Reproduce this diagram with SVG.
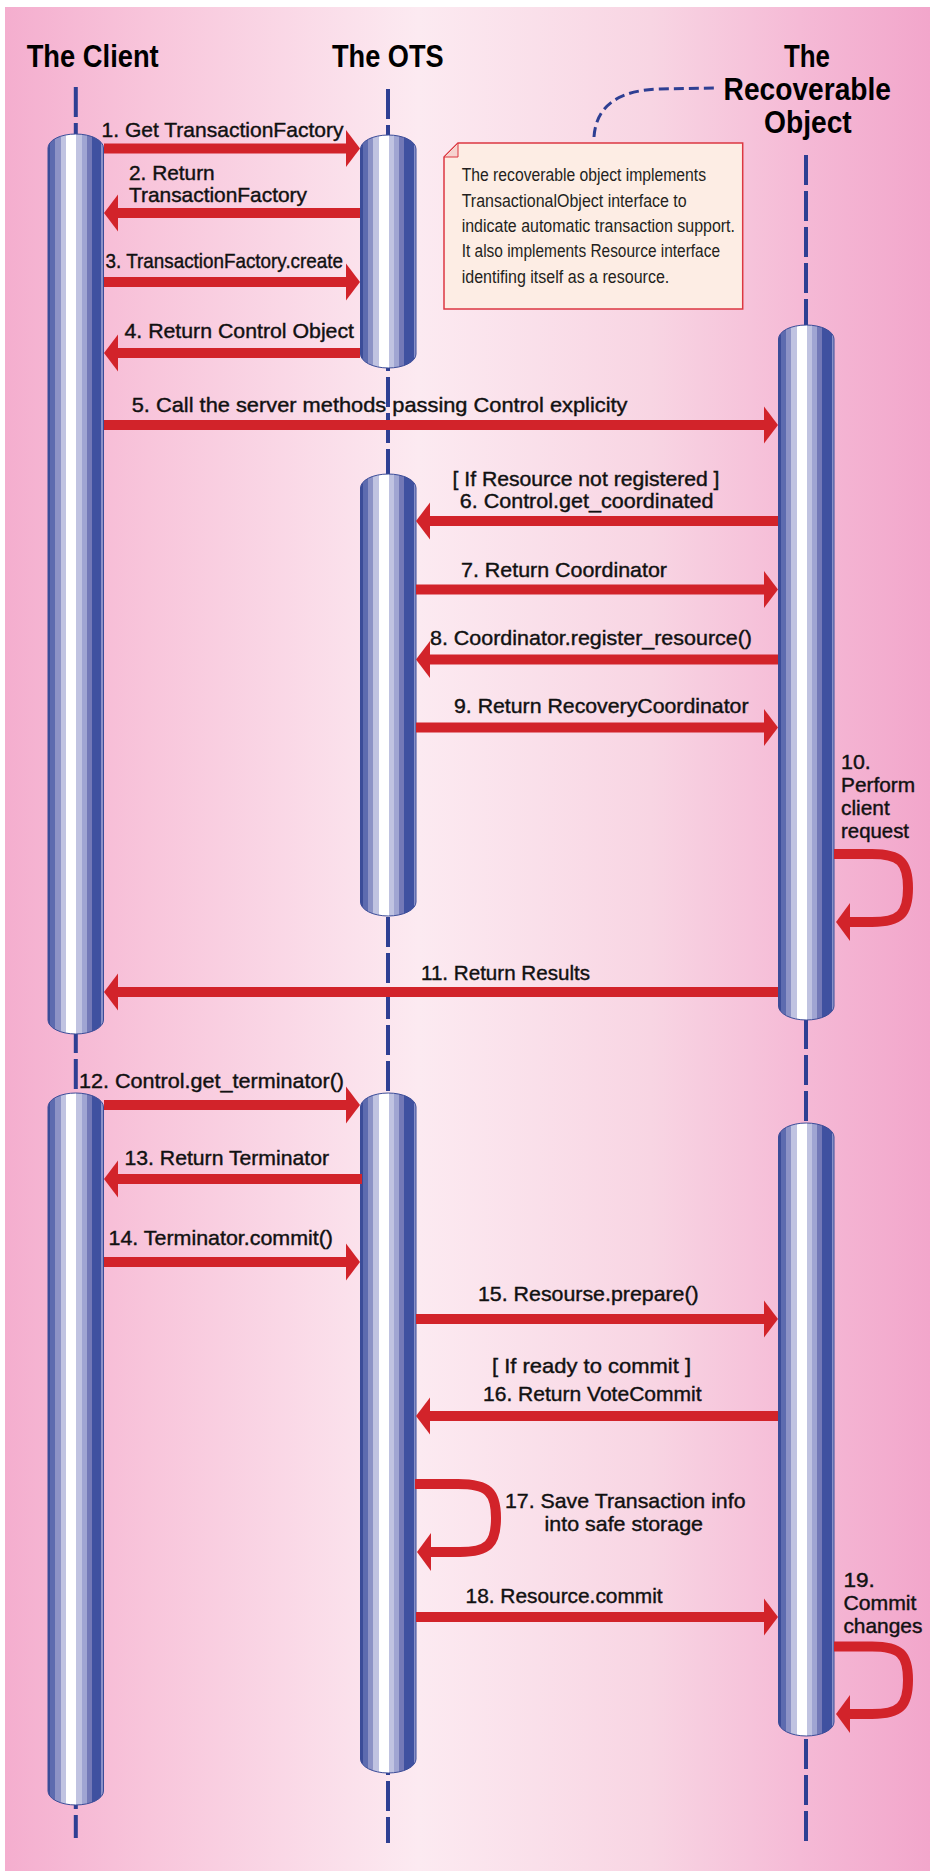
<svg xmlns="http://www.w3.org/2000/svg" width="930" height="1871" viewBox="0 0 930 1871">
<defs>
<linearGradient id="bg" x1="0" y1="0" x2="930" y2="0" gradientUnits="userSpaceOnUse">
<stop offset="0" stop-color="#F4ADCE"/>
<stop offset="0.16" stop-color="#F8C5DB"/>
<stop offset="0.45" stop-color="#FCEAF1"/>
<stop offset="0.70" stop-color="#F8D5E3"/>
<stop offset="0.86" stop-color="#F5BAD6"/>
<stop offset="1" stop-color="#F2A6CB"/>
</linearGradient>
<linearGradient id="cyl" x1="0" y1="0" x2="1" y2="0">
<stop offset="0" stop-color="#3B4C98"/>
<stop offset="0.04" stop-color="#3B4C98"/>
<stop offset="0.04" stop-color="#5D6BAF"/>
<stop offset="0.13" stop-color="#5D6BAF"/>
<stop offset="0.13" stop-color="#8D93C6"/>
<stop offset="0.23" stop-color="#8D93C6"/>
<stop offset="0.23" stop-color="#C0C3E1"/>
<stop offset="0.33" stop-color="#C0C3E1"/>
<stop offset="0.33" stop-color="#FFFFFF"/>
<stop offset="0.51" stop-color="#FFFFFF"/>
<stop offset="0.51" stop-color="#C0C3E1"/>
<stop offset="0.61" stop-color="#C0C3E1"/>
<stop offset="0.61" stop-color="#A0A5D2"/>
<stop offset="0.70" stop-color="#A0A5D2"/>
<stop offset="0.70" stop-color="#7379B7"/>
<stop offset="0.79" stop-color="#7379B7"/>
<stop offset="0.79" stop-color="#3F51A0"/>
<stop offset="0.96" stop-color="#3F51A0"/>
<stop offset="0.96" stop-color="#8A91C8"/>
<stop offset="1" stop-color="#8A91C8"/>
</linearGradient>
</defs>
<style>
.life{stroke:#2E3F93;stroke-width:4;stroke-dasharray:30 6;fill:none}
.bar{fill:url(#cyl);stroke:#3B4C98;stroke-width:1}
.title{font-family:"Liberation Sans",Arial,sans-serif;font-weight:bold;font-size:32px;fill:#000}
.lbl{font-family:"Liberation Sans",Arial,sans-serif;font-size:21px;fill:#111;stroke:#111;stroke-width:0.4}
.note{font-family:"Liberation Sans",Arial,sans-serif;font-size:17.5px;fill:#231F20}
.shaft{fill:#D2232A}
.head{fill:#D2232A}
.loop{fill:none;stroke:#D2232A;stroke-width:10}
</style>
<rect x="0" y="0" width="930" height="1871" fill="#FFFFFF"/>
<rect x="5" y="7" width="925" height="1864" fill="url(#bg)"/>

<g id="client">
<text class="title" x="26.7" y="66.7" textLength="132" lengthAdjust="spacingAndGlyphs">The Client</text>
<line class="life" x1="75.8" y1="87" x2="75.8" y2="1838"/>
<rect class="bar" x="48" y="134" width="55.5" height="900" rx="27.75" ry="14"/>
<rect class="bar" x="48" y="1093" width="55.5" height="712" rx="27.75" ry="14"/>
</g>

<g id="ots">
<text class="title" x="332" y="66.7" textLength="111.6" lengthAdjust="spacingAndGlyphs">The OTS</text>
<line class="life" x1="388" y1="89" x2="388" y2="1843"/>
<rect class="bar" x="360.5" y="135" width="55.5" height="233" rx="27.75" ry="14"/>
<rect class="bar" x="360.5" y="474" width="55.5" height="442" rx="27.75" ry="14"/>
<rect class="bar" x="360.5" y="1093" width="55.5" height="680" rx="27.75" ry="14"/>
</g>

<g id="recoverable">
<text class="title" x="784" y="66.7" textLength="46" lengthAdjust="spacingAndGlyphs">The</text>
<text class="title" x="723.6" y="99.5" textLength="167.4" lengthAdjust="spacingAndGlyphs">Recoverable</text>
<text class="title" x="764" y="132.5" textLength="87.7" lengthAdjust="spacingAndGlyphs">Object</text>
<line class="life" x1="806" y1="155" x2="806" y2="1843"/>
<rect class="bar" x="778.5" y="325" width="55.5" height="695" rx="27.75" ry="14"/>
<rect class="bar" x="778.5" y="1123" width="55.5" height="613" rx="27.75" ry="14"/>
</g>

<g id="note">
<path d="M594 137 C596 105 620 90 660 89 L718 88" fill="none" stroke="#2E3F93" stroke-width="3" stroke-dasharray="10 5"/>
<polygon points="458,143 742.7,143 742.7,309 444,309 444,157" fill="#FDEDE4" stroke="#DC3741" stroke-width="1.5"/>
<polygon points="444,157 458,143 458,157" fill="#F6D3CF" stroke="#DC3741" stroke-width="1"/>
<text class="note" x="461.7" y="181" textLength="244.3" lengthAdjust="spacingAndGlyphs">The recoverable object implements</text>
<text class="note" x="461.7" y="206.7" textLength="225" lengthAdjust="spacingAndGlyphs">TransactionalObject interface to</text>
<text class="note" x="461.7" y="231.7" textLength="273.3" lengthAdjust="spacingAndGlyphs">indicate automatic transaction support.</text>
<text class="note" x="461.7" y="257.3" textLength="258.3" lengthAdjust="spacingAndGlyphs">It also implements Resource interface</text>
<text class="note" x="461.7" y="282.7" textLength="207.6" lengthAdjust="spacingAndGlyphs">identifing itself as a resource.</text>
</g>

<g id="connectors">
<rect class="shaft" x="104" y="143.5" width="242" height="10"/><polygon class="head" points="346,130 360,148.5 346,167"/>
<rect class="shaft" x="118" y="208" width="242" height="10"/><polygon class="head" points="118,194.5 104,213 118,231.5"/>
<rect class="shaft" x="104" y="277" width="242" height="10"/><polygon class="head" points="346,263.5 360,282 346,300.5"/>
<rect class="shaft" x="118" y="348" width="242" height="10"/><polygon class="head" points="118,334.5 104,353 118,371.5"/>
<rect class="shaft" x="104" y="420" width="660" height="10"/><polygon class="head" points="764,406.5 778,425 764,443.5"/>
<rect class="shaft" x="430" y="516" width="348" height="10"/><polygon class="head" points="430,502.5 416,521 430,539.5"/>
<rect class="shaft" x="416" y="584.5" width="348" height="10"/><polygon class="head" points="764,571 778,589.5 764,608"/>
<rect class="shaft" x="430" y="654.5" width="348" height="10"/><polygon class="head" points="430,641 416,659.5 430,678"/>
<rect class="shaft" x="416" y="722.5" width="348" height="10"/><polygon class="head" points="764,709 778,727.5 764,746"/>
<path class="loop" d="M834 854 H872 C900 854 908 862 908 888 C908 914 900 922 872 922 H848"/><polygon class="head" points="850,903 836,922 850,941"/>
<rect class="shaft" x="118" y="987" width="660" height="10"/><polygon class="head" points="118,973.5 104,992 118,1010.5"/>
<rect class="shaft" x="104" y="1100" width="242" height="10"/><polygon class="head" points="346,1086.5 360,1105 346,1123.5"/>
<rect class="shaft" x="118" y="1174" width="244" height="10"/><polygon class="head" points="118,1160.5 104,1179 118,1197.5"/>
<rect class="shaft" x="104" y="1257" width="242" height="10"/><polygon class="head" points="346,1243.5 360,1262 346,1280.5"/>
<rect class="shaft" x="416" y="1314" width="348" height="10"/><polygon class="head" points="764,1300.5 778,1319 764,1337.5"/>
<rect class="shaft" x="430" y="1411" width="348" height="10"/><polygon class="head" points="430,1397.5 416,1416 430,1434.5"/>
<path class="loop" d="M415 1484 H458 C488 1484 496 1492 496 1518 C496 1544 488 1552 460 1552 H429"/><polygon class="head" points="431,1533 417,1552 431,1571"/>
<rect class="shaft" x="416" y="1612" width="348" height="10"/><polygon class="head" points="764,1598.5 778,1617 764,1635.5"/>
<path class="loop" d="M834 1646.5 H872 C900 1646.5 908 1654 908 1680 C908 1706 900 1714 872 1714 H848"/><polygon class="head" points="850,1695 836,1714 850,1733"/>

<text class="lbl" x="101.5" y="136.7" textLength="242" lengthAdjust="spacingAndGlyphs">1. Get TransactionFactory</text>
<text class="lbl" x="129" y="180" textLength="85.7" lengthAdjust="spacingAndGlyphs">2. Return</text>
<text class="lbl" x="129" y="202" textLength="178" lengthAdjust="spacingAndGlyphs">TransactionFactory</text>
<text class="lbl" x="105.6" y="268" textLength="237.4" lengthAdjust="spacingAndGlyphs">3. TransactionFactory.create</text>
<text class="lbl" x="124.5" y="338" textLength="229.5" lengthAdjust="spacingAndGlyphs">4. Return Control Object</text>
<text class="lbl" x="131.7" y="411.7" textLength="495.8" lengthAdjust="spacingAndGlyphs">5. Call the server methods passing Control explicity</text>
<text class="lbl" x="452.5" y="486" textLength="267" lengthAdjust="spacingAndGlyphs">[ If Resource not registered ]</text>
<text class="lbl" x="459.7" y="507.7" textLength="253.8" lengthAdjust="spacingAndGlyphs">6. Control.get_coordinated</text>
<text class="lbl" x="461" y="576.7" textLength="206" lengthAdjust="spacingAndGlyphs">7. Return Coordinator</text>
<text class="lbl" x="430" y="645" textLength="322" lengthAdjust="spacingAndGlyphs">8. Coordinator.register_resource()</text>
<text class="lbl" x="454" y="713.3" textLength="294.5" lengthAdjust="spacingAndGlyphs">9. Return RecoveryCoordinator</text>
<text class="lbl" x="841" y="769.3" textLength="29.7" lengthAdjust="spacingAndGlyphs">10.</text>
<text class="lbl" x="841" y="792.3" textLength="74" lengthAdjust="spacingAndGlyphs">Perform</text>
<text class="lbl" x="841" y="815.3" textLength="48.7" lengthAdjust="spacingAndGlyphs">client</text>
<text class="lbl" x="841" y="838.3" textLength="68" lengthAdjust="spacingAndGlyphs">request</text>
<text class="lbl" x="421" y="980" textLength="169" lengthAdjust="spacingAndGlyphs">11. Return Results</text>
<text class="lbl" x="79" y="1088" textLength="265" lengthAdjust="spacingAndGlyphs">12. Control.get_terminator()</text>
<text class="lbl" x="124.5" y="1165" textLength="204.5" lengthAdjust="spacingAndGlyphs">13. Return Terminator</text>
<text class="lbl" x="108.5" y="1245" textLength="224.5" lengthAdjust="spacingAndGlyphs">14. Terminator.commit()</text>
<text class="lbl" x="478" y="1300.7" textLength="220.7" lengthAdjust="spacingAndGlyphs">15. Resourse.prepare()</text>
<text class="lbl" x="492" y="1373" textLength="199" lengthAdjust="spacingAndGlyphs">[ If ready to commit ]</text>
<text class="lbl" x="483" y="1401" textLength="218.6" lengthAdjust="spacingAndGlyphs">16. Return VoteCommit</text>
<text class="lbl" x="505" y="1508" textLength="240.5" lengthAdjust="spacingAndGlyphs">17. Save Transaction info</text>
<text class="lbl" x="544.5" y="1530.7" textLength="158.5" lengthAdjust="spacingAndGlyphs">into safe storage</text>
<text class="lbl" x="465.6" y="1603" textLength="197" lengthAdjust="spacingAndGlyphs">18. Resource.commit</text>
<text class="lbl" x="843.4" y="1586.7" textLength="31.4" lengthAdjust="spacingAndGlyphs">19.</text>
<text class="lbl" x="843.4" y="1610" textLength="73" lengthAdjust="spacingAndGlyphs">Commit</text>
<text class="lbl" x="843.4" y="1632.7" textLength="79" lengthAdjust="spacingAndGlyphs">changes</text>
</g>
</svg>
